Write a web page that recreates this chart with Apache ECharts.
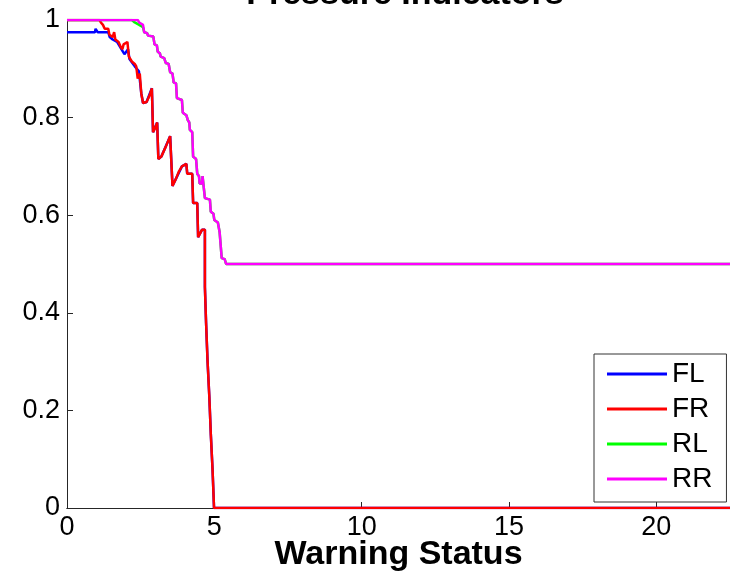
<!DOCTYPE html>
<html>
<head>
<meta charset="utf-8">
<script src="https://cdn.jsdelivr.net/npm/echarts@6/dist/echarts.min.js"></script>
<style>html,body{margin:0;padding:0;background:#fff;}#c{width:730px;height:573px;}</style>
</head>
<body>
<div id="c"></div>
<script>
const seriesNames = ['FL', 'FR', 'RL', 'RR'];
const xTicks = [0, 5, 10, 15, 20];
const yTicks = [0, 0.2, 0.4, 0.6, 0.8, 1];

const fr = [[0,1],[1.1,1],[1.15,0.995],[1.22,0.99],[1.28,0.982],[1.4,0.982],[1.44,0.97],[1.55,0.965],[1.6,0.975],[1.64,0.96],[1.75,0.955],[1.82,0.945],[1.88,0.94],[1.92,0.95],[2.05,0.955],[2.1,0.925],[2.2,0.915],[2.3,0.91],[2.35,0.905],[2.4,0.88],[2.47,0.89],[2.52,0.85],[2.58,0.83],[2.7,0.832],[2.8,0.845],[2.88,0.86],[2.92,0.77],[3.0,0.78],[3.06,0.79],[3.1,0.715],[3.2,0.72],[3.35,0.74],[3.5,0.762],[3.55,0.762],[3.58,0.66],[3.7,0.675],[3.8,0.69],[3.9,0.7],[4.05,0.705],[4.08,0.685],[4.25,0.685],[4.28,0.625],[4.42,0.625],[4.45,0.555],[4.58,0.57],[4.68,0.57],[4.68,0.453],[4.72,0.453],[4.72,0.379],[4.77,0.379],[4.77,0.301],[4.83,0.301],[4.83,0.228],[4.88,0.228],[4.88,0.152],[4.94,0.152],[4.94,0.078],[4.99,0.078],[4.99,0],[22.5,0]];

const fl = [[0,0.975],[0.95,0.975],[0.97,0.982],[1.02,0.982],[1.04,0.975],[1.4,0.975],[1.45,0.965],[1.55,0.96],[1.7,0.955],[1.85,0.94],[1.95,0.93],[2.07,0.94],[2.12,0.92],[2.3,0.905],[2.44,0.895],[2.52,0.85],[2.58,0.83],[2.7,0.832],[2.88,0.86],[2.92,0.77],[3.06,0.79],[3.1,0.715],[3.2,0.72],[3.5,0.762],[3.55,0.762],[3.58,0.66],[3.9,0.7],[4.05,0.705],[4.08,0.685],[4.25,0.685],[4.28,0.625],[4.42,0.625],[4.45,0.555],[4.58,0.57],[4.68,0.57],[4.68,0.453],[4.72,0.453],[4.72,0.379],[4.77,0.379],[4.77,0.301],[4.83,0.301],[4.83,0.228],[4.88,0.228],[4.88,0.152],[4.94,0.152],[4.94,0.078],[4.99,0.078],[4.99,0],[22.5,0]];

const rl = [[0,1],[2.2,1],[2.3,0.995],[2.45,0.99],[2.58,0.985],[2.62,0.975],[2.72,0.973],[2.75,0.968],[2.93,0.966],[2.97,0.95],[3.05,0.948],[3.08,0.935],[3.15,0.932],[3.18,0.925],[3.3,0.922],[3.35,0.912],[3.45,0.91],[3.5,0.893],[3.58,0.89],[3.62,0.872],[3.7,0.87],[3.73,0.84],[3.9,0.836],[3.93,0.81],[4.05,0.805],[4.1,0.795],[4.15,0.79],[4.17,0.775],[4.25,0.77],[4.28,0.72],[4.38,0.715],[4.42,0.685],[4.48,0.68],[4.5,0.665],[4.58,0.665],[4.6,0.68],[4.65,0.68],[4.68,0.635],[4.85,0.632],[4.88,0.607],[4.97,0.603],[5.0,0.59],[5.12,0.585],[5.18,0.565],[5.23,0.562],[5.25,0.512],[5.35,0.51],[5.4,0.5],[22.5,0.5]];

const rr = [[0,1],[2.4,1],[2.45,0.995],[2.58,0.99],[2.62,0.975],[2.72,0.973],[2.75,0.968],[2.93,0.966],[2.97,0.95],[3.05,0.948],[3.08,0.935],[3.15,0.932],[3.18,0.925],[3.3,0.922],[3.35,0.912],[3.45,0.91],[3.5,0.893],[3.58,0.89],[3.62,0.872],[3.7,0.87],[3.73,0.84],[3.9,0.836],[3.93,0.81],[4.05,0.805],[4.1,0.795],[4.15,0.79],[4.17,0.775],[4.25,0.77],[4.28,0.72],[4.38,0.715],[4.42,0.685],[4.48,0.68],[4.5,0.665],[4.58,0.665],[4.6,0.68],[4.65,0.68],[4.68,0.635],[4.85,0.632],[4.88,0.607],[4.97,0.603],[5.0,0.59],[5.12,0.585],[5.18,0.565],[5.23,0.562],[5.25,0.512],[5.35,0.51],[5.4,0.5],[22.5,0.5]];

const colors = ['#0000ff', '#ff0000', '#00ff00', '#ff00ff'];
const dataSets = [fl, fr, rl, rr];
const FONT = '"Liberation Sans", Arial, Helvetica, sans-serif';

const chart = echarts.init(document.getElementById('c'), null, {renderer: 'canvas'});
chart.setOption({
  animation: false,
  backgroundColor: '#fff',
  title: {
    text: 'Pressure Indicators',
    left: 400, top: -27, textAlign: 'center',
    textStyle: {fontFamily: FONT, fontSize: 34, fontWeight: 'bold', color: '#000'}
  },
  grid: {left: 67, right: 0, top: 20, bottom: 65, containLabel: false, outerBoundsMode: 'none'},
  legend: {
    orient: 'vertical', left: 594, top: 354,
    data: seriesNames,
    icon: 'rect', itemWidth: 60, itemHeight: 3, itemGap: 7,
    padding: [6, 14, 9, 13],
    borderColor: '#333', borderWidth: 1, backgroundColor: '#fff',
    textStyle: {fontFamily: FONT, fontSize: 28, color: '#000', lineHeight: 26}
  },
  xAxis: [{
    type: 'value', min: 0, max: 22.5, interval: 5,
    name: 'Warning Status', nameLocation: 'middle', nameGap: 30, nameMoveOverlap: false,
    nameTextStyle: {fontFamily: FONT, fontSize: 34, fontWeight: 'bold', color: '#000'},
    axisLine: {show: true, onZero: false, lineStyle: {color: '#262626', width: 1}},
    axisTick: {show: true, inside: true, length: 6, customValues: xTicks, lineStyle: {color: '#262626'}},
    axisLabel: {customValues: xTicks, fontFamily: FONT, fontSize: 27, color: '#000', margin: 6},
    splitLine: {show: false}
  }, {
    type: 'value', min: 0, max: 22.5, position: 'top',
    axisLine: {show: true, lineStyle: {color: '#262626', width: 1}},
    axisTick: {show: false}, axisLabel: {show: false}, splitLine: {show: false}
  }],
  yAxis: {
    type: 'value', min: 0, max: 1, interval: 0.2,
    axisLine: {show: true, lineStyle: {color: '#262626', width: 1}},
    axisTick: {show: true, inside: true, length: 6, customValues: yTicks, lineStyle: {color: '#262626'}},
    axisLabel: {customValues: yTicks, fontFamily: FONT, fontSize: 27, color: '#000', margin: 7},
    splitLine: {show: false}
  },
  series: seriesNames.map((n, i) => ({
    name: n, type: 'line', data: dataSets[i], xAxisIndex: 0,
    showSymbol: false, symbol: 'none', smooth: false,
    color: colors[i],
    lineStyle: {color: colors[i], width: 2.5},
    z: 2 + i
  }))
});
</script>
</body>
</html>
